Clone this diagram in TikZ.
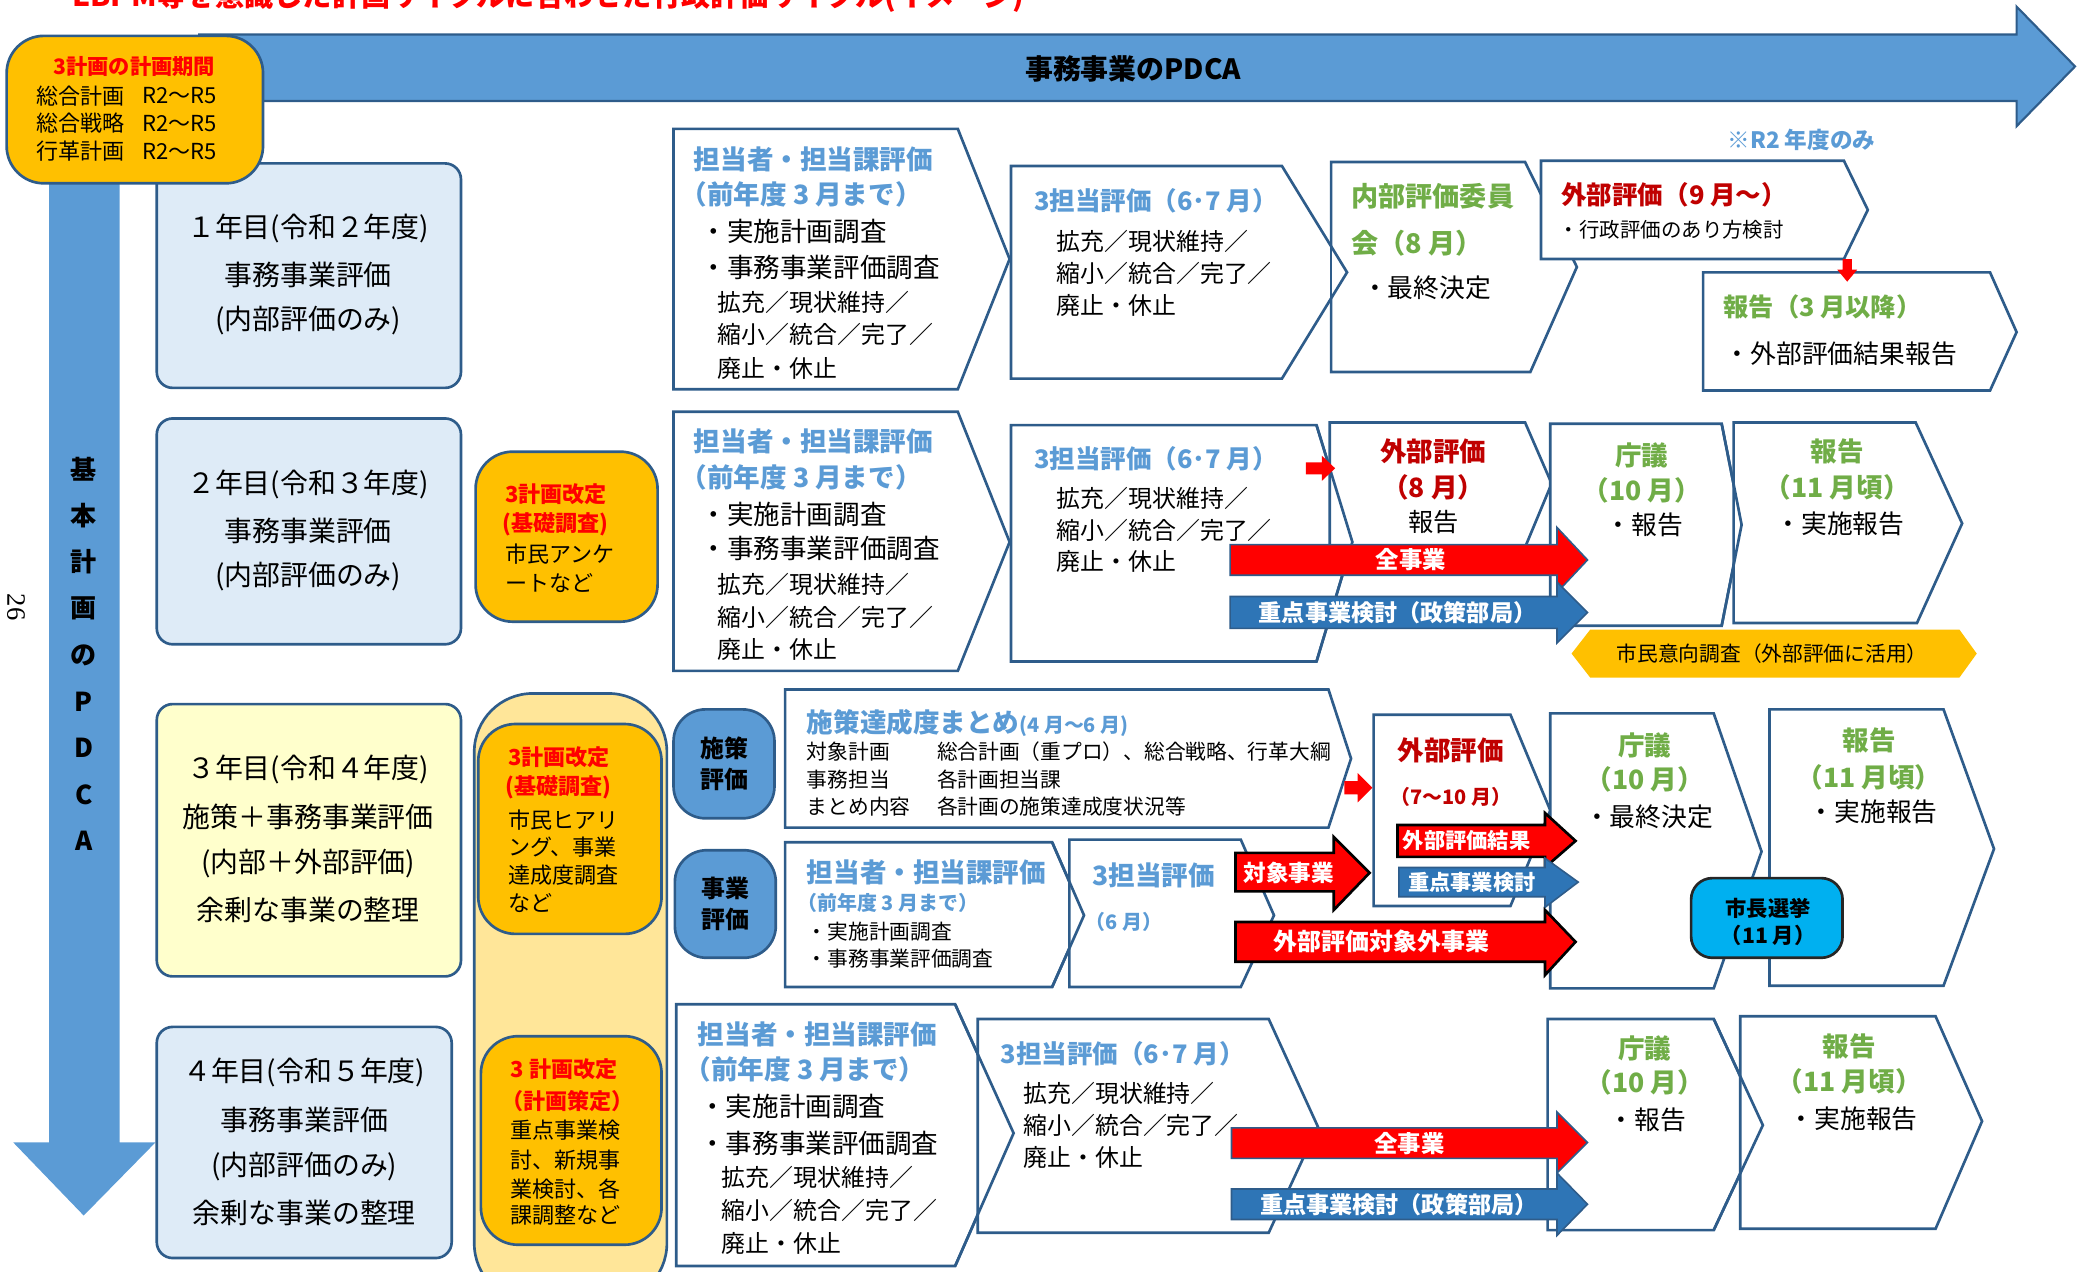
\documentclass[tikz,border=0pt]{standalone}
\usepackage{fontspec}
\setmainfont{Noto Sans CJK JP}
\newfontfamily\pgserif{Liberation Serif}
\newcommand\myfs[1]{\fontsize{#1}{#1}\selectfont}
\definecolor{bd}{HTML}{2E5C8A}
\definecolor{hblue}{HTML}{5B9BD5}
\definecolor{hgreen}{HTML}{70AD47}
\definecolor{dred}{HTML}{C00000}
\definecolor{orng}{HTML}{FFC000}
\definecolor{tanc}{HTML}{FFE699}
\definecolor{lblue}{HTML}{DEEBF7}
\definecolor{lyel}{HTML}{FFFFCC}
\definecolor{pblue}{HTML}{5B9BD5}
\definecolor{ablue}{HTML}{2E75B6}
\definecolor{sky}{HTML}{00B0F0}
\tikzset{
  bx/.style={draw=bd, line width=1pt, rounded corners=6},
  chev/.style={draw=bd, line width=1pt, fill=white, line join=miter},
  outl/.style={draw=bd, line width=1pt},
  tx/.style={inner sep=0pt, anchor=west, font=\myfs{#1}}, tx/.default=10,
  hb/.style={inner sep=0pt, anchor=west, text=hblue, font=\myfs{#1}\bfseries}, hb/.default=10,
  gr/.style={inner sep=0pt, text=hgreen, font=\myfs{#1}\bfseries}, gr/.default=10,
  dr/.style={inner sep=0pt, text=dred, font=\myfs{#1}\bfseries}, dr/.default=10,
  ct/.style={inner sep=0pt, font=\myfs{#1}}, ct/.default=10,
  wt/.style={inner sep=0pt, text=white, font=\myfs{#1}\bfseries}, wt/.default=9,
  bk/.style={inner sep=0pt, font=\myfs{#1}\bfseries}, bk/.default=9,
  rd/.style={inner sep=0pt, anchor=west, text=red, font=\myfs{#1}\bfseries}, rd/.default=8.3,
  redarr/.style={fill=red, draw=bd, line width=0.6pt},
  redarrk/.style={fill=red, draw=black, line width=1pt},
  bluearr/.style={fill=ablue, draw=bd, line width=0.6pt},
}
\begin{document}
\begin{tikzpicture}[x=0.5pt, y=-0.5pt]
\useasboundingbox (0,0) rectangle (1568,957);
% title (cut off at top, as in the reference)
\node[inner sep=0pt, anchor=base west, text=red, font=\myfs{11}\bfseries] (title) at (54,5) {EBPM等を意識した計画サイクルに合わせた行政評価サイクル(イメージ)};
% top arrow
\draw[fill=pblue, draw=bd, line width=0.8pt] (150,26) -- (1518,26) -- (1518,5) -- (1562,50) -- (1518,95) -- (1518,76) -- (150,76) -- cycle;
\node[bk=10.5] (pdca) at (853,52) {事務事業のPDCA};
% vertical arrow
\fill[pblue] (37,100) -- (90,100) -- (90,860) -- (117,860) -- (63,915) -- (10,860) -- (37,860) -- cycle;
\foreach \c [count=\i] in {基,本,計,画,の,P,D,C,A}
  \node[bk=9.8] (v\i) at (63,{353+35*(\i-1)}) {\c};
\node[inner sep=0pt, font=\pgserif\myfs{10}, rotate=-90] (pg) at (12,457) {26};
% year boxes
\draw[bx, fill=lblue] (118,123) rectangle (347,292);
\draw[bx, fill=lblue] (118,315) rectangle (347,485);
\draw[bx, fill=lyel] (118,530) rectangle (347,735);
\draw[bx, fill=lblue] (118,773) rectangle (340,947);
\node[ct=10.5] (y1a) at (232,172) {１年目(令和２年度)};
\node[ct=10.5] (y1b) at (232,207) {事務事業評価};
\node[ct=10.5] (y1c) at (232,241) {(内部評価のみ)};
\node[ct=10.5] (y2a) at (232,365) {２年目(令和３年度)};
\node[ct=10.5] (y2b) at (232,400) {事務事業評価};
\node[ct=10.5] (y2c) at (232,434) {(内部評価のみ)};
\node[ct=10.5] (y3a) at (232,579) {３年目(令和４年度)};
\node[ct=10.5] (y3b) at (232,615) {施策＋事務事業評価};
\node[ct=10.5] (y3c) at (232,650) {(内部＋外部評価)};
\node[ct=10.5] (y3d) at (232,685) {余剰な事業の整理};
\node[ct=10.5] (y4a) at (229,807) {４年目(令和５年度)};
\node[ct=10.5] (y4b) at (229,843) {事務事業評価};
\node[ct=10.5] (y4c) at (229,878) {(内部評価のみ)};
\node[ct=10.5] (y4d) at (229,913) {余剰な事業の整理};
% orange boxes
\draw[bx, fill=orng, rounded corners=14] (358,340) rectangle (495,468);
\node[rd] (oa1) at (380,372) {3計画改定};
\node[rd] (oa2) at (378,395) {(基礎調査)};
\node[tx=8.3] (oa3) at (380,417) {市民アンケ};
\node[tx=8.3] (oa4) at (380,439) {ートなど};
\draw[bx, fill=tanc, rounded corners=22] (357,522) rectangle (502,980);
\draw[bx, fill=orng, rounded corners=14] (360,545) rectangle (498,703);
\node[rd] (ob1) at (382,570) {3計画改定};
\node[rd] (ob2) at (380,593) {(基礎調査)};
\node[tx=8.3] (ob3) at (382,617) {市民ヒアリ};
\node[tx=8.3] (ob4) at (382,638) {ング、事業};
\node[tx=8.3] (ob5) at (382,659) {達成度調査};
\node[tx=8.3] (ob6) at (382,680) {など};
\draw[bx, fill=orng, rounded corners=14] (362,780) rectangle (498,937);
\node[rd] (oc1) at (384,805) {3 計画改定};
\node[rd] (oc2) at (377,829) {（計画策定）};
\node[tx=8.3] (oc3) at (384,851) {重点事業検};
\node[tx=8.3] (oc4) at (384,873) {討、新規事};
\node[tx=8.3] (oc5) at (384,895) {業検討、各};
\node[tx=8.3] (oc6) at (384,915) {課調整など};
% ---------- row 1 ----------
\draw[chev] (507,97) -- (721,97) -- (760,195) -- (721,293) -- (507,293) -- cycle;
\draw[chev] (1002,122) -- (1148,122) -- (1187,201) -- (1152,280) -- (1002,280) -- cycle;
\draw[chev] (761,125) -- (965,125) -- (1014,205) -- (965,285) -- (761,285) -- cycle;
\draw[outl] (1002,122) -- (1002,280);
\draw[chev] (1160,121) -- (1388,121) -- (1406,158) -- (1388,195) -- (1160,195) -- cycle;
\draw[chev] (1282,205) -- (1498,205) -- (1518,250) -- (1498,294) -- (1282,294) -- cycle;
\fill[red] (1387,195) -- (1394,195) -- (1394,203) -- (1398,203) -- (1390.5,212) -- (1383,203) -- (1387,203) -- cycle;
\node[hb] (a1) at (522,120) {担当者・担当課評価};
\node[hb] (a2) at (512,146) {（前年度 3 月まで）};
\node[tx] (a3) at (527,174) {・実施計画調査};
\node[tx] (a4) at (527,201) {・事務事業評価調査};
\node[tx=9] (a5) at (540,228) {拡充／現状維持／};
\node[tx=9] (a6) at (540,252) {縮小／統合／完了／};
\node[tx=9] (a7) at (540,277) {廃止・休止};
\node[hb=9.6] (b1) at (778,151) {3担当評価（6･7 月）};
\node[tx=9] (b2) at (795,182) {拡充／現状維持／};
\node[tx=9] (b3) at (795,206) {縮小／統合／完了／};
\node[tx=9] (b4) at (795,230) {廃止・休止};
\node[gr=10.2, anchor=west] (c1) at (1017,148) {内部評価委員};
\node[gr=10.2, anchor=west] (c2) at (1017,183) {会（8 月）};
\node[tx=9.7] (c3) at (1025,217) {・最終決定};
\node[dr=9.6, anchor=west] (d1) at (1175,147) {外部評価（9 月～）};
\node[tx=7.7] (d2) at (1173,173) {・行政評価のあり方検討};
\node[inner sep=0pt, text=hblue, font=\myfs{8.5}\bfseries] (note) at (1356,105) {※R2 年度のみ};
\node[gr=9.5, anchor=west] (e1) at (1297,231) {報告（3 月以降）};
\node[tx=9.7] (e2) at (1298,266) {・外部評価結果報告};
% ---------- row 2 ----------
\draw[chev] (507,310) -- (721,310) -- (760,408) -- (721,505) -- (507,505) -- cycle;
\draw[chev] (761,320) -- (991,320) -- (1018,408) -- (991,498) -- (761,498) -- cycle;
\draw[chev] (1001,318) -- (1148,318) -- (1168,364) -- (1148,412) -- (1001,412) -- cycle;
\draw[outl] (991,320) -- (1018,408) -- (991,498);
\draw[chev] (1167,319) -- (1296,319) -- (1311,395) -- (1296,471) -- (1167,471) -- cycle;
\draw[chev] (1305,318) -- (1442,318) -- (1477,394) -- (1443,469) -- (1305,469) -- cycle;
\draw[outl] (1296,319) -- (1311,395) -- (1296,471);
\fill[red] (983,348) -- (995,348) -- (995,343) -- (1005,352.5) -- (995,362) -- (995,357) -- (983,357) -- cycle;
\node[hb] (f1) at (522,332) {担当者・担当課評価};
\node[hb] (f2) at (512,359) {（前年度 3 月まで）};
\node[tx] (f3) at (527,387) {・実施計画調査};
\node[tx] (f4) at (527,413) {・事務事業評価調査};
\node[tx=9] (f5) at (540,440) {拡充／現状維持／};
\node[tx=9] (f6) at (540,465) {縮小／統合／完了／};
\node[tx=9] (f7) at (540,489) {廃止・休止};
\node[hb=9.6] (g1) at (778,345) {3担当評価（6･7 月）};
\node[tx=9] (g2) at (795,375) {拡充／現状維持／};
\node[tx=9] (g3) at (795,399) {縮小／統合／完了／};
\node[tx=9] (g4) at (795,423) {廃止・休止};
\node[dr] (h1) at (1079,340) {外部評価};
\node[dr] (h2) at (1079,367) {（8 月）};
\node[ct=9.5] (h3) at (1079,393) {報告};
\node[gr] (i1) at (1236,343) {庁議};
\node[gr] (i2) at (1236,369) {（10 月）};
\node[ct=9.7] (i3) at (1238,395) {・報告};
\node[gr] (j1) at (1383,340) {報告};
\node[gr] (j2) at (1383,367) {（11 月頃）};
\node[ct=9.7] (j3) at (1385,394) {・実施報告};
\draw[redarr] (926,410) -- (1172,410) -- (1172,397) -- (1195,421.5) -- (1172,446) -- (1172,433) -- (926,433) -- cycle;
\node[wt=8.8] (k1) at (1062,421.5) {全事業};
\draw[bluearr] (926,449) -- (1172,449) -- (1172,438) -- (1195,461) -- (1172,484) -- (1172,473) -- (926,473) -- cycle;
\node[wt=8.7] (k2) at (1052,461) {重点事業検討（政策部局）};
\fill[orng] (1183,492) -- (1197,474) -- (1475,474) -- (1488,492) -- (1475,510) -- (1197,510) -- cycle;
\node[ct=7.8] (k3) at (1334,492) {市民意向調査（外部評価に活用）};
% ---------- row 3 ----------
\draw[bx, fill=pblue, rounded corners=12] (507,534) rectangle (583,616);
\draw[bx, fill=pblue, rounded corners=12] (508,640) rectangle (584,721);
\node[bk] (m1) at (545,563) {施策};
\node[bk] (m2) at (545,587) {評価};
\node[bk] (m3) at (546,669) {事業};
\node[bk] (m4) at (546,692) {評価};
\draw[chev] (591,519) -- (1000,519) -- (1017,571) -- (1000,623) -- (591,623) -- cycle;
\draw[chev] (591,634) -- (792,634) -- (816,689) -- (792,743) -- (591,743) -- cycle;
\draw[chev] (805,632) -- (934,632) -- (959,689) -- (934,743) -- (805,743) -- cycle;
\draw[outl] (792,634) -- (816,689) -- (792,743);
\draw[chev] (1034,538) -- (1137,538) -- (1167,610) -- (1137,682) -- (1034,682) -- cycle;
\draw[chev] (1167,537) -- (1290,537) -- (1326,641) -- (1290,744) -- (1167,744) -- cycle;
\draw[chev] (1332,534) -- (1463,534) -- (1501,639) -- (1463,742) -- (1332,742) -- cycle;
\fill[red] (1012,588) -- (1022,588) -- (1022,582) -- (1033,593) -- (1022,604) -- (1022,598) -- (1012,598) -- cycle;
\node[hb, anchor=west] (n1) at (607,544) {施策達成度まとめ{\myfs{7.5}(4 月～6 月)}};
\node[tx=7.8] (n2) at (607,566) {対象計画};
\node[tx=7.8] (n3) at (705,566) {総合計画（重プロ）、総合戦略、行革大綱};
\node[tx=7.8] (n4) at (607,587) {事務担当};
\node[tx=7.8] (n5) at (705,587) {各計画担当課};
\node[tx=7.8] (n6) at (607,607) {まとめ内容};
\node[tx=7.8] (n7) at (705,607) {各計画の施策達成度状況等};
\node[hb] (o1) at (607,657) {担当者・担当課評価};
\node[hb=7.5] (o2) at (600,680) {（前年度 3 月まで）};
\node[tx=7.8] (o3) at (607,701) {・実施計画調査};
\node[tx=7.8] (o4) at (607,722) {・事務事業評価調査};
\node[hb] (p1) at (822,659) {3担当評価};
\node[hb=7.5] (p2) at (817,694) {（6 月）};
\node[dr] (q1) at (1092,565) {外部評価};
\node[dr=7.5] (q2) at (1092,600) {（7～10 月）};
\node[gr] (s1) at (1238,561) {庁議};
\node[gr] (s2) at (1238,587) {（10 月）};
\node[ct=9.7] (s3) at (1241,615) {・最終決定};
\node[gr] (u1) at (1407,557) {報告};
\node[gr] (u2) at (1407,585) {（11 月頃）};
\node[ct=9.7] (u3) at (1410,611) {・実施報告};
\draw[redarrk] (930,642) -- (1004,642) -- (1004,630) -- (1031,657) -- (1004,685) -- (1004,671) -- (930,671) -- cycle;
\node[wt=8.5] (w1) at (970,657) {対象事業};
\draw[redarrk] (1052,621) -- (1163,621) -- (1163,612) -- (1186,633) -- (1163,653) -- (1163,645) -- (1052,645) -- cycle;
\node[wt=8] (w2) at (1104,633) {外部評価結果};
\draw[bluearr] (1053,653) -- (1163,653) -- (1163,646) -- (1188,664) -- (1163,683) -- (1163,675) -- (1053,675) -- cycle;
\node[wt=8] (w3) at (1108,664) {重点事業検討};
\draw[redarrk] (930,694) -- (1163,694) -- (1163,685) -- (1186,709) -- (1163,734) -- (1163,724) -- (930,724) -- cycle;
\node[wt=9] (w4) at (1040,709) {外部評価対象外事業};
\draw[fill=sky, draw=black!85, line width=1pt, rounded corners=8] (1273,661) rectangle (1387,721);
\node[bk=8] (x1) at (1331,684) {市長選挙};
\node[bk=8] (x2) at (1331,704) {（11 月）};
% ---------- row 4 ----------
\draw[chev] (509,756) -- (719,756) -- (763,853) -- (719,953) -- (509,953) -- cycle;
\draw[chev] (736,767) -- (955,767) -- (992,848) -- (955,928) -- (736,928) -- cycle;
\draw[outl] (719,756) -- (763,853) -- (719,953);
\draw[chev] (1165,767) -- (1290,767) -- (1327,847) -- (1290,926) -- (1165,926) -- cycle;
\draw[chev] (1310,765) -- (1457,765) -- (1492,844) -- (1457,925) -- (1310,925) -- cycle;
\draw[outl] (1290,767) -- (1327,847) -- (1290,926);
\node[hb] (z1) at (525,779) {担当者・担当課評価};
\node[hb] (z2) at (515,805) {（前年度 3 月まで）};
\node[tx] (z3) at (526,833) {・実施計画調査};
\node[tx] (z4) at (526,861) {・事務事業評価調査};
\node[tx=9] (z5) at (543,886) {拡充／現状維持／};
\node[tx=9] (z6) at (543,911) {縮小／統合／完了／};
\node[tx=9] (z7) at (543,936) {廃止・休止};
\node[hb=9.6] (zz1) at (753,793) {3担当評価（6･7 月）};
\node[tx=9] (zz2) at (770,823) {拡充／現状維持／};
\node[tx=9] (zz3) at (770,847) {縮小／統合／完了／};
\node[tx=9] (zz4) at (770,871) {廃止・休止};
\node[gr] (r1) at (1238,789) {庁議};
\node[gr] (r2) at (1238,815) {（10 月）};
\node[ct=9.7] (r3) at (1240,843) {・報告};
\node[gr] (t1) at (1392,788) {報告};
\node[gr] (t2) at (1392,814) {（11 月頃）};
\node[ct=9.7] (t3) at (1395,842) {・実施報告};
\draw[redarr] (927,849) -- (1172,849) -- (1172,837) -- (1195,860) -- (1172,883) -- (1172,872) -- (927,872) -- cycle;
\node[wt=8.8] (k4) at (1061,860.5) {全事業};
\draw[bluearr] (927,895) -- (1172,895) -- (1172,883) -- (1195,906.5) -- (1172,930) -- (1172,918) -- (927,918) -- cycle;
\node[wt=8.7] (k5) at (1053,906.5) {重点事業検討（政策部局）};
% plan period box
\draw[bx, fill=orng, rounded corners=14] (5,27) rectangle (198,138);
\node[inner sep=0pt, text=red, font=\myfs{8}\bfseries] (pp0) at (101,50) {3計画の計画期間};
\node[tx=8.3] (pp1) at (27,72) {総合計画};
\node[tx=8.3] (pp2) at (107,72) {R2～R5};
\node[tx=8.3] (pp3) at (27,93) {総合戦略};
\node[tx=8.3] (pp4) at (107,93) {R2～R5};
\node[tx=8.3] (pp5) at (27,114) {行革計画};
\node[tx=8.3] (pp6) at (107,114) {R2～R5};
\end{tikzpicture}
\end{document}
